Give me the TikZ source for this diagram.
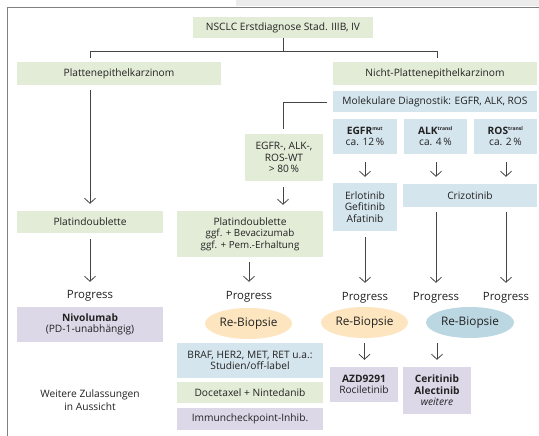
\documentclass[tikz,border=0pt]{standalone}
\usepackage{fontspec}
\setmainfont{Open Sans}
\usetikzlibrary{arrows.meta,shapes.geometric}
\definecolor{cgreen}{HTML}{E3ECD7}
\definecolor{cblue}{HTML}{D5E5ED}
\definecolor{clav}{HTML}{DCD8E8}
\definecolor{corange}{HTML}{FDE5C0}
\definecolor{cblueell}{HTML}{BBD7E1}
\definecolor{cline}{HTML}{444444}
\definecolor{ctext}{HTML}{222222}
\begin{document}
\begin{tikzpicture}[x=1pt,y=-1pt,
  box/.style={rectangle,inner sep=0pt,align=center,text=ctext,font=\fontsize{10.2}{11.6}\selectfont},
  gbox/.style={box,fill=cgreen},
  bbox/.style={box,fill=cblue},
  lbox/.style={box,fill=clav},
  ell/.style={ellipse,inner sep=0pt,text=ctext,font=\fontsize{11.8}{13}\selectfont},
  prog/.style={inner sep=0pt,minimum height=14pt,text=ctext,font=\fontsize{11.4}{13}\selectfont},
  conn/.style={draw=cline,line width=0.8pt},
  arr/.style={conn,-{Straight Barb[length=5pt,width=11pt,line width=0.8pt]}}
]
\useasboundingbox (0,0) rectangle (539,436);
\fill[white] (0,0) rectangle (539,436);
\fill[gray!15] (236,0) rectangle (539,6.5);
\draw[gray,line width=0.9pt] (539,7) -- (7,7) -- (7,436);

% boxes
\node[gbox,minimum width=180pt,minimum height=21pt] (nsclc) at (283,27.5) {NSCLC Erstdiagnose Stad. IIIB, IV};
\node[gbox,minimum width=204pt,minimum height=23pt] (platte) at (119,73.5) {Plattenepithelkarzinom};
\node[gbox,minimum width=204pt,minimum height=23pt] (nicht) at (435,73.5) {Nicht-Plattenepithelkarzinom};
\node[bbox,minimum width=204pt,minimum height=21pt] (mol) at (435,101.5) {Molekulare Diagnostik: EGFR, ALK, ROS};
\node[bbox,minimum width=64pt,minimum height=35pt] (egfr) at (365,136.5) {\textbf{EGFR}\textsuperscript{\textbf{\fontsize{5}{5}\selectfont mut}}\\ca. 12\,\%};
\node[bbox,minimum width=63pt,minimum height=35pt] (alk) at (435.5,136.5) {\textbf{ALK}\textsuperscript{\textbf{\fontsize{5}{5}\selectfont transl}}\\ca. 4\,\%};
\node[bbox,minimum width=63pt,minimum height=35pt] (ros) at (505.5,136.5) {\textbf{ROS}\textsuperscript{\textbf{\fontsize{5}{5}\selectfont transl}}\\ca. 2\,\%};
\node[gbox,minimum width=78pt,minimum height=47pt] (wt) at (284,157.5) {EGFR-, ALK-,\\ROS-WT\\> 80\,\%};
\node[bbox,minimum width=64pt,minimum height=48pt] (erlo) at (365,207) {Erlotinib\\Gefitinib\\Afatinib};
\node[bbox,minimum width=134pt,minimum height=23pt] (crizo) at (470,195.5) {Crizotinib};
\node[gbox,minimum width=146pt,minimum height=22pt] (plat1) at (90,222) {Platindoublette};
\node[gbox,minimum width=146pt,minimum height=46pt] (plat2) at (250,234) {Platindoublette\\{\fontsize{9.8}{11.6}\selectfont ggf. + Bevacizumab}\\{\fontsize{9.8}{11.6}\selectfont ggf. + Pem.-Erhaltung}};

\node[prog] (prog1) at (90,296) {Progress};
\node[prog] (prog2) at (249,297) {Progress};
\node[prog] (prog3) at (365,298) {Progress};
\node[prog] (prog4) at (436,298) {Progress};
\node[prog] (prog5) at (506,298) {Progress};

\node[lbox,minimum width=146pt,minimum height=35pt] (niv) at (90,324.5) {\textbf{Nivolumab}\\(PD-1-unabhängig)};
\node[box,font=\fontsize{10.2}{13}\selectfont] (weitere) at (90,400) {Weitere Zulassungen\\in Aussicht};

\node[ell,fill=corange,minimum width=87pt,minimum height=31pt] (rb2) at (248.5,323.5) {Re-Biopsie};
\node[ell,fill=corange,minimum width=87pt,minimum height=31pt] (rb3) at (364.5,322.5) {Re-Biopsie};
\node[ell,fill=cblueell,minimum width=88pt,minimum height=31pt] (rb4) at (470,322.5) {Re-Biopsie};

\node[bbox,minimum width=146pt,minimum height=35pt] (braf) at (250,360.5) {BRAF, HER2, MET, RET u.a.:\\Studien/off-label};
\node[gbox,minimum width=146pt,minimum height=21pt] (doce) at (250,392.5) {Docetaxel + Nintedanib};
\node[lbox,minimum width=146pt,minimum height=22pt] (immun) at (250,419) {Immuncheckpoint-Inhib.};
\node[lbox,minimum width=68pt,minimum height=35pt] (azd) at (364,384.5) {\textbf{AZD9291}\\Rociletinib};
\node[lbox,minimum width=68pt,minimum height=47pt] (ceri) at (437,390.5) {\textbf{Ceritinib}\\\textbf{Alectinib}\\\textit{weitere}};

% split lines
\coordinate (jM) at (283,51);
\coordinate (jL) at (90,51);
\coordinate (jR) at (437,51);
\coordinate (eL) at (90,58);
\coordinate (eR) at (437,58);
\draw[conn] (nsclc.south) -- (jM);
\draw[conn] (eL) -- (jL) -- (jR) -- (eR);

\coordinate (mA) at (327,102);
\coordinate (mB) at (283,102);
\coordinate (mC) at (283,129);
\draw[conn] (mA) -- (mB) -- (mC);

% arrows
\draw[arr,shorten <=5pt,shorten >=7pt] (platte.south -| plat1.north) -- (plat1.north);
\draw[arr,shorten <=6pt,shorten >=6pt] (mC |- wt.south) -- (mC |- plat2.north);
\draw[arr,shorten <=8pt,shorten >=6pt] (egfr.south) -- (erlo.north);
\draw[arr,shorten <=8pt,shorten >=7pt] (alk.south -| prog4) -- (prog4 |- crizo.north);
\draw[arr,shorten <=8pt,shorten >=7pt] (ros.south -| prog5) -- (prog5 |- crizo.north);
\draw[arr,shorten <=6pt,shorten >=7pt] (plat1.south) -- (prog1.north);
\draw[arr,shorten <=5pt,shorten >=8pt] (plat2.south -| prog2) -- (prog2.north);
\draw[arr,shorten <=6pt,shorten >=8pt] (erlo.south) -- (prog3.north);
\draw[arr,shorten <=5pt,shorten >=8pt] (crizo.south -| prog4) -- (prog4.north);
\draw[arr,shorten <=5pt,shorten >=8pt] (crizo.south -| prog5) -- (prog5.north);
\draw[arr,shorten <=5pt,shorten >=7pt] (rb3.south) -- (rb3.south |- azd.north);
\draw[arr,shorten <=5pt,shorten >=7pt] (ceri.north |- rb4.south) -- (ceri.north);
\end{tikzpicture}
\end{document}
